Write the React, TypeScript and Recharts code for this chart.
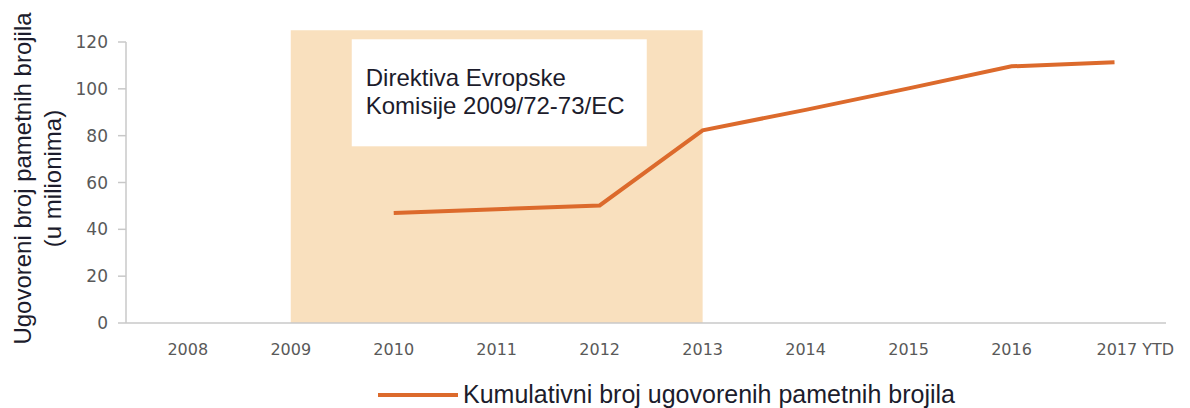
import React from "react";
import { LineChart, Line, XAxis, YAxis, ReferenceArea, Legend } from "recharts";

const years = [2008, 2009, 2010, 2011, 2012, 2013, 2014, 2015, 2016, 2017];
const yearLabels = ["2008", "2009", "2010", "2011", "2012", "2013", "2014", "2015", "2016", "2017 YTD"];
const contracted: (number | null)[] = [null, null, 47, 48.6, 50.2, 82.3, 91, 100.2, 109.6, 111.3];
const yTicks = [0, 20, 40, 60, 80, 100, 120];
const directiveStart = 2009;
const directiveEnd = 2013;
const directiveText = ["Direktiva Evropske", "Komisije 2009/72-73/EC"];
const seriesName = "Kumulativni broj ugovorenih pametnih brojila";
const yLabelLines = ["Ugovoreni broj pametnih brojila", "(u milionima)"];

const data = years.map((y, i) => ({ year: y, value: contracted[i] }));

const ORANGE = "#dc6a2c";
const SHADE = "#f9e0be";
const TEXT = "#1c1c2c";

const XTick = (props: any) => {
  const { x, y, payload } = props;
  const idx = years.indexOf(payload.value);
  const label = yearLabels[idx] ?? String(payload.value);
  const last = idx === years.length - 1;
  return (
    <text
      x={last ? x - 18 : x}
      y={y}
      dy="0.71em"
      textAnchor={last ? "start" : "middle"}
      fill="#595959"
      fontFamily="DejaVu Sans"
      fontSize={16}
    >
      {label}
    </text>
  );
};

const YLabel = (props: any) => {
  const vb = props.viewBox;
  const cy = vb.y + vb.height / 2 - 4;
  return (
    <g>
      <text
        transform={`translate(${22}, ${cy}) rotate(-90)`}
        textAnchor="middle"
        dominantBaseline="central"
        fill={TEXT}
        fontFamily="Liberation Sans, Arial"
        fontSize={24}
      >
        {yLabelLines[0]}
      </text>
      <text
        transform={`translate(${52}, ${cy}) rotate(-90)`}
        textAnchor="middle"
        dominantBaseline="central"
        fill={TEXT}
        fontFamily="Liberation Sans, Arial"
        fontSize={24}
      >
        {yLabelLines[1]}
      </text>
    </g>
  );
};

const DirectiveBox = (props: any) => {
  const vb = props.viewBox;
  const bx = vb.x + 61;
  const by = vb.y + 9;
  return (
    <g>
      <rect x={bx} y={by} width={295} height={107} fill="#ffffff" />
      {directiveText.map((t, i) => (
        <text
          key={i}
          x={bx + 14}
          y={by + 47 + i * 28}
          fill={TEXT}
          fontFamily="Liberation Sans, Arial"
          fontSize={24}
        >
          {t}
        </text>
      ))}
    </g>
  );
};

const LegendContent = () => (
  <div style={{ position: "relative", height: 40, width: 1190 }}>
    <svg width={1190} height={40} style={{ display: "block" }}>
      <line x1={378} x2={458} y1={27} y2={27} stroke={ORANGE} strokeWidth={4} />
      <text x={463} y={35} fill={TEXT} fontFamily="Liberation Sans, Arial" fontSize={25}>
        {seriesName}
      </text>
    </svg>
  </div>
);

export default function App() {
  return (
    <div style={{ position: "absolute", left: 0, top: 0, background: "#fff" }}>
      <LineChart width={1190} height={408} data={data} margin={{ top: 42, right: 24, bottom: 0, left: 0 }}>
        <ReferenceArea
          x1={directiveStart}
          x2={directiveEnd}
          y1={0}
          y2={125}
          ifOverflow="visible"
          fill={SHADE}
          fillOpacity={1}
          stroke="none"
          label={<DirectiveBox />}
        />
        <XAxis
          dataKey="year"
          type="number"
          domain={[2007.4, 2017.5]}
          allowDataOverflow
          ticks={years}
          interval={0}
          height={45}
          tickLine={false}
          tickMargin={15}
          axisLine={{ stroke: "#c8c8c8", strokeWidth: 1.5 }}
          tick={<XTick />}
        />
        <YAxis
          domain={[0, 120]}
          ticks={yTicks}
          width={126}
          tickSize={8}
          tickMargin={10}
          axisLine={{ stroke: "#c8c8c8", strokeWidth: 1.5 }}
          tickLine={{ stroke: "#c8c8c8", strokeWidth: 1.5 }}
          tick={{ fill: "#595959", fontFamily: "DejaVu Sans", fontSize: 17 }}
          label={<YLabel />}
        />
        <Legend verticalAlign="bottom" height={40} wrapperStyle={{ left: 0, width: 1190 }} content={<LegendContent />} />
        <Line
          type="linear"
          dataKey="value"
          name={seriesName}
          stroke={ORANGE}
          strokeWidth={4}
          dot={false}
          connectNulls={false}
          isAnimationActive={false}
        />
      </LineChart>
    </div>
  );
}
